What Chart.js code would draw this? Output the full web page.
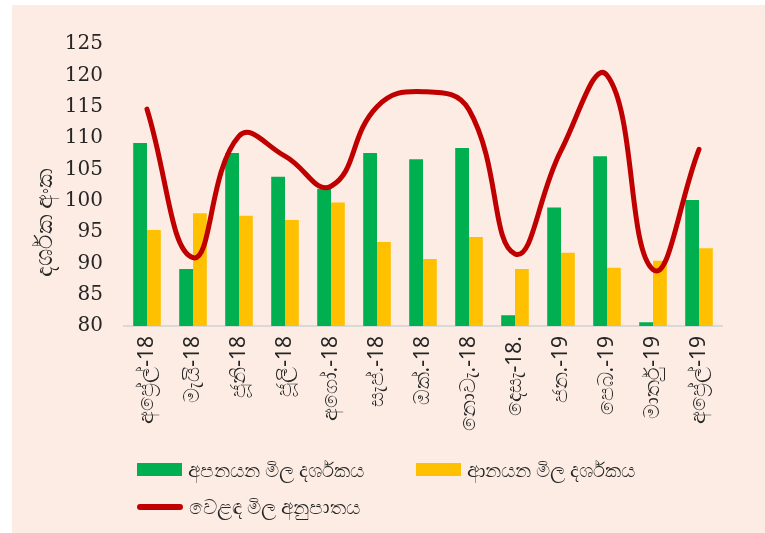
<!DOCTYPE html>
<html>
<head>
<meta charset="utf-8">
<script src="https://cdn.jsdelivr.net/npm/chart.js@4/dist/chart.umd.min.js"></script>
<style>
    html, body { margin: 0; padding: 0; background: #fff; }
    .box {
        position: absolute;
        left: 12px;
        top: 5px;
        width: 753px;
        height: 528px;
        background: #fcece3;
    }
    #canva { display: block; }
    #legend {
        position: absolute;
        left: 125px;
        top: 446px;
        display: grid;
        grid-template-columns: 279px auto;
        grid-auto-rows: 37px;
        font: 20px "Noto Sans", sans-serif;
        color: #262626;
    }
    .item { display: flex; align-items: center; }
    .swatch { width: 45px; height: 13px; margin-right: 6px; }
    .swatch.line { width: 46px; height: 6px; border-radius: 3px; }
</style>
</head>
<body>
<div class="box">
    <canvas id="canva" width="753" height="528"></canvas>
    <div id="legend"></div>
</div>
<script>
const months = [
    'අප්‍රේල්-18', 'මැයි-18', 'ජූනි-18', 'ජූලි-18', 'අගෝ.-18', 'සැප්.-18', 'ඔක්.-18',
    'නොවැ.-18', 'දෙසැ-18.', 'ජන.-19', 'පෙබ.-19', 'මාර්තු-19', 'අප්‍රේල්-19',
];
const exportIndex = [109.2, 89.1, 107.6, 103.8, 101.9, 107.6, 106.6, 108.4, 81.7, 98.9, 107.1, 80.6, 100.1];
const importIndex = [95.3, 98.0, 97.6, 96.9, 99.7, 93.4, 90.7, 94.2, 89.1, 91.7, 89.3, 90.4, 92.4];
const termsOfTrade = [114.6, 90.9, 110.3, 107.1, 102.3, 115.0, 117.4, 114.5, 91.5, 108.0, 120.0, 89.0, 108.2];
const yAxisTitle = 'දර්ශක අංක';
const yMin = 80;
const yMax = 125;
const yStep = 5;

const textColor = '#262626';

// axis title sits a bit below the middle, as in the original
const yTitle = {
    id: 'yTitle',
    afterDraw(chart) {
        const { ctx, chartArea } = chart;
        ctx.save();
        ctx.translate(chartArea.left - 79, (chartArea.top + chartArea.bottom) / 2 + 38);
        ctx.rotate(-Math.PI / 2);
        ctx.font = '24px "Noto Sans", sans-serif';
        ctx.fillStyle = textColor;
        ctx.textAlign = 'center';
        ctx.textBaseline = 'middle';
        ctx.fillText(yAxisTitle, 0, 0);
        ctx.restore();
    },
};

const canvas = document.querySelector('#canva').getContext('2d');
const chart = new Chart(canvas, {
    data: {
        labels: months,
        datasets: [
            {
                type: 'bar',
                label: 'අපනයන මිල දර්ශකය',
                data: exportIndex,
                backgroundColor: '#00b050',
                categoryPercentage: 0.6,
                barPercentage: 1.0,
                order: 1,
            },
            {
                type: 'bar',
                label: 'ආනයන මිල දර්ශකය',
                data: importIndex,
                backgroundColor: '#ffc000',
                categoryPercentage: 0.6,
                barPercentage: 1.0,
                order: 1,
            },
            {
                type: 'line',
                label: 'වෙළඳ මිල අනුපාතය',
                data: termsOfTrade,
                borderColor: '#c00000',
                backgroundColor: '#c00000',
                borderWidth: 5,
                borderCapStyle: 'round',
                tension: 0.45,
                pointRadius: 0,
                order: 0,
            },
        ],
    },
    options: {
        responsive: false,
        animation: false,
        layout: {
            padding: { top: 39, right: 43, bottom: 87, left: 0 },
        },
        scales: {
            x: {
                grid: { display: false, drawTicks: false },
                border: { display: true, color: '#d9d9d9', width: 2 },
                ticks: {
                    autoSkip: false,
                    minRotation: 90,
                    maxRotation: 90,
                    padding: 10,
                    color: textColor,
                    font: { family: '"Noto Sans", sans-serif', size: 21 },
                },
                afterFit: (scale) => { scale.height = 120; },
            },
            y: {
                min: yMin,
                max: yMax,
                grid: { display: false, drawTicks: false },
                border: { display: false },
                ticks: {
                    stepSize: yStep,
                    padding: 21,
                    color: textColor,
                    font: { family: '"DejaVu Serif", serif', size: 20 },
                },
                afterFit: (scale) => { scale.width = 112; },
            },
        },
        plugins: {
            legend: { display: false },
            tooltip: { enabled: false },
        },
    },
    plugins: [yTitle],
});

// legend drawn as html from the datasets
const legend = document.querySelector('#legend');
chart.data.datasets.forEach((ds) => {
    const item = document.createElement('div');
    item.className = 'item';
    const sw = document.createElement('span');
    sw.className = ds.type === 'line' ? 'swatch line' : 'swatch';
    sw.style.background = ds.type === 'line' ? ds.borderColor : ds.backgroundColor;
    const txt = document.createElement('span');
    txt.textContent = ds.label;
    item.appendChild(sw);
    item.appendChild(txt);
    legend.appendChild(item);
});
</script>
</body>
</html>
